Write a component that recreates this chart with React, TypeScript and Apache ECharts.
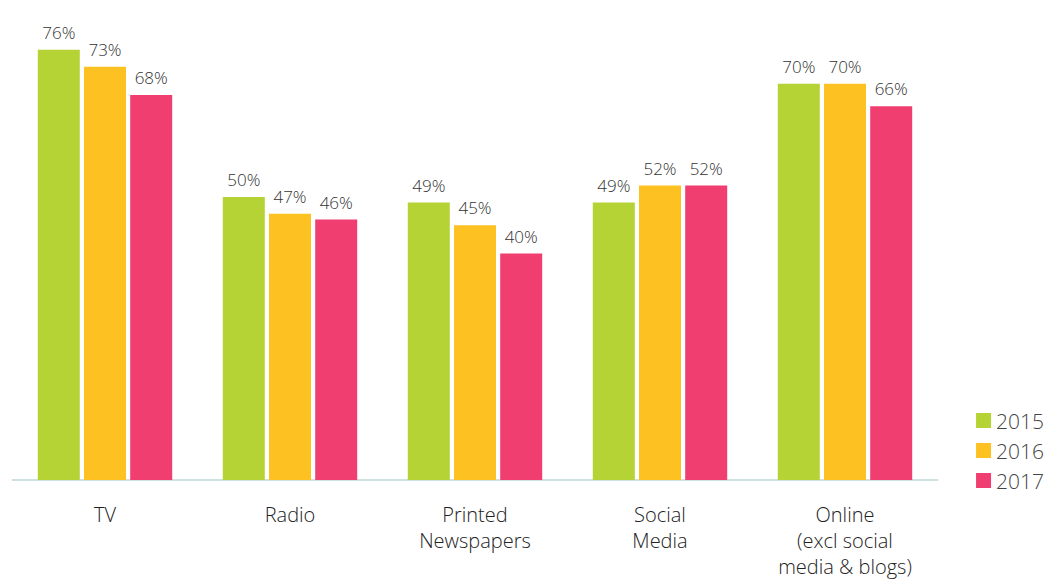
import React, { useEffect, useRef } from "react";
import * as echarts from "echarts";

const categories = ["TV", "Radio", "Printed\nNewspapers", "Social\nMedia", "Online\n(excl social\nmedia & blogs)"];
const years = ["2015", "2016", "2017"];
const values2015 = [76, 50, 49, 49, 70];
const values2016 = [73, 47, 45, 52, 70];
const values2017 = [68, 46, 40, 52, 66];
const colors = ["#b5d334", "#fdc122", "#ef3e6f"];

export default function App() {
  const ref = useRef<HTMLDivElement>(null);
  useEffect(() => {
    const chart = echarts.init(ref.current!, null, { renderer: "svg" });
    const seriesData = [values2015, values2016, values2017];
    chart.setOption({
      animation: false,
      textStyle: { fontFamily: "Open Sans" },
      grid: { left: 4.5, right: 117.5, top: 19, bottom: 93, containLabel: false },
      legend: {
        orient: "vertical",
        right: 6,
        top: 397,
        itemWidth: 15,
        itemHeight: 15,
        itemGap: 9,
        icon: "rect",
        textStyle: { fontSize: 21, color: "#444", fontFamily: "Open Sans", fontWeight: 300 },
        data: years,
      },
      xAxis: {
        type: "category",
        data: categories,
        axisLine: { lineStyle: { color: "#cfe0e0", width: 2 } },
        axisTick: { show: false },
        axisLabel: {
          fontSize: 20,
          color: "#222",
          lineHeight: 26,
          margin: 21,
          interval: 0,
          fontFamily: "Open Sans",
          fontWeight: 300,
        },
      },
      yAxis: {
        type: "value",
        min: 0,
        max: 80,
        show: false,
        splitLine: { show: false },
      },
      series: years.map((y, i) => ({
        name: y,
        type: "bar",
        data: seriesData[i],
        barWidth: 42,
        barGap: "10%",
        barCategoryGap: "27.6%",
        itemStyle: { color: colors[i] },
        label: {
          show: true,
          position: "top",
          distance: 9,
          formatter: "{c}%",
          fontSize: 17,
          color: "#333",
          fontFamily: "Open Sans",
          fontWeight: 300,
        },
      })),
    });
    return () => chart.dispose();
  }, []);
  return <div ref={ref} style={{ width: 1047, height: 571 }} />;
}
